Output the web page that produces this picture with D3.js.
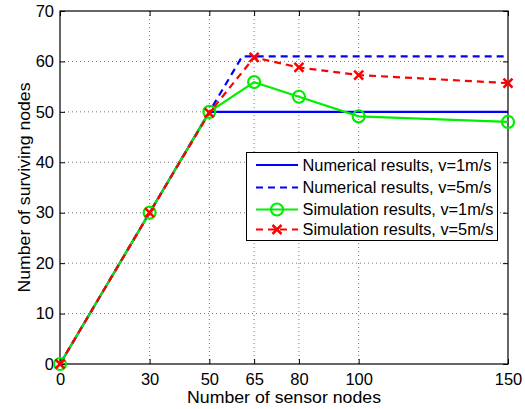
<!DOCTYPE html>
<html><head><meta charset="utf-8">
<script src="https://cdn.jsdelivr.net/npm/d3@7"></script>
<style>body{margin:0;background:#fff}svg{display:block;font-family:"Liberation Sans",Arial,sans-serif}</style>
</head><body><svg id="c" width="525" height="409"></svg>
<script>
const xTicks = [0, 30, 50, 65, 80, 100, 150];
const yTicks = [0, 10, 20, 30, 40, 50, 60, 70];
const numX1 = [0, 50, 150];
const numV1 = [0, 50, 50];
const numX5 = [0, 61, 150];
const numV5 = [0, 61, 61];
const simX = [0, 30, 50, 65, 80, 100, 150];
const simV1 = [0, 30, 50, 55.9, 53.0, 49.1, 48.0];
const simV5 = [0, 30, 49.8, 60.8, 58.8, 57.3, 55.7];
const legendLabels = ["Numerical results, v=1m/s", "Numerical results, v=5m/s", "Simulation results, v=1m/s", "Simulation results, v=5m/s"];

const L = 60, R = 508, T = 11, B = 364;
const svg = d3.select("#c");
const x = d3.scaleLinear().domain([0, 150]).range([L, R]);
const y = d3.scaleLinear().domain([0, 70]).range([B, T]);

// grid
const grid = svg.append("g").attr("stroke", "#777").attr("stroke-width", 1).attr("stroke-dasharray", "1,3");
xTicks.forEach(t => { if (t > 0 && t < 150) grid.append("line").attr("x1", x(t)).attr("x2", x(t)).attr("y1", B).attr("y2", T); });
yTicks.forEach(t => { if (t > 0 && t < 70) grid.append("line").attr("x1", L).attr("x2", R).attr("y1", y(t)).attr("y2", y(t)); });

// axes
const ax = svg.append("g").attr("transform", `translate(0,${B})`)
  .call(d3.axisBottom(x).tickValues(xTicks).tickSize(-5).tickPadding(9).tickFormat(d3.format("d")));
const axT = svg.append("g").attr("transform", `translate(0,${T})`)
  .call(d3.axisTop(x).tickValues(xTicks).tickSize(-5).tickFormat(""));
const ay = svg.append("g").attr("transform", `translate(${L},0)`)
  .call(d3.axisLeft(y).tickValues(yTicks).tickSize(-5).tickPadding(6).tickFormat(d3.format("d")));
const ayR = svg.append("g").attr("transform", `translate(${R},0)`)
  .call(d3.axisRight(y).tickValues(yTicks).tickSize(-5).tickFormat(""));
[ax, axT, ay, ayR].forEach(g => {
  g.select(".domain").remove();
  g.selectAll("line").attr("stroke", "#000");
  g.selectAll("text").attr("font-size", 16.5).attr("fill", "#000").attr("font-family", "Liberation Sans, Arial, sans-serif");
});
svg.append("rect").attr("x", L).attr("y", T).attr("width", R - L).attr("height", B - T)
  .attr("fill", "none").attr("stroke", "#000").attr("stroke-width", 1.2);

// lines
const line = d3.line().x(d => x(d[0])).y(d => y(d[1]));
const plot = svg.append("g");
function path(xs, vs, color, dash) {
  plot.append("path").datum(xs.map((v, i) => [v, vs[i]])).attr("d", line)
    .attr("fill", "none").attr("stroke", color).attr("stroke-width", 2.2)
    .attr("stroke-dasharray", dash || null);
}
path(numX1, numV1, "#0000ff");
path(numX5, numV5, "#0000ff", "7,5");
path(simX, simV1, "#00ee00");
path(simX, simV5, "#ff0000", "7,5");

function circle(g, cx, cy) {
  g.append("circle").attr("cx", cx).attr("cy", cy).attr("r", 6)
    .attr("fill", "none").attr("stroke", "#00ee00").attr("stroke-width", 2.2);
}
function cross(g, cx, cy) {
  const s = 4.5;
  g.append("path").attr("d", `M${cx - s},${cy - s}L${cx + s},${cy + s}M${cx - s},${cy + s}L${cx + s},${cy - s}`)
    .attr("stroke", "#ff0000").attr("stroke-width", 2.5).attr("fill", "none");
}
simX.forEach((v, i) => circle(plot, x(v), y(simV1[i])));
simX.forEach((v, i) => cross(plot, x(v), y(simV5[i])));

// titles
svg.append("text").attr("x", (L + R) / 2).attr("y", 403).attr("text-anchor", "middle")
  .attr("font-size", 17).attr("textLength", 194).attr("lengthAdjust", "spacingAndGlyphs").text("Number of sensor nodes");
svg.append("text").attr("transform", `translate(30,${(T + B) / 2}) rotate(-90)`).attr("text-anchor", "middle")
  .attr("font-size", 17).attr("textLength", 210).attr("lengthAdjust", "spacingAndGlyphs").text("Number of surviving nodes");

// legend
const lg = svg.append("g");
lg.append("rect").attr("x", 246.5).attr("y", 152.5).attr("width", 251).attr("height", 88)
  .attr("fill", "#fff").attr("stroke", "#000").attr("stroke-width", 1);
const ly = [165, 187.5, 209.5, 229.5];
const lens = [189, 189, 191, 191];
const styles = [["#0000ff", null], ["#0000ff", "7,5"], ["#00ee00", null], ["#ff0000", "7,5"]];
legendLabels.forEach((lab, i) => {
  lg.append("line").attr("x1", 256).attr("x2", 298).attr("y1", ly[i]).attr("y2", ly[i])
    .attr("stroke", styles[i][0]).attr("stroke-width", 2.2).attr("stroke-dasharray", styles[i][1]);
  lg.append("text").attr("x", 302.5).attr("y", ly[i] + 5.5).attr("font-size", 16)
    .attr("textLength", lens[i]).attr("lengthAdjust", "spacingAndGlyphs").text(lab);
});
circle(lg, 277, ly[2]);
cross(lg, 277, ly[3]);
</script></body></html>
